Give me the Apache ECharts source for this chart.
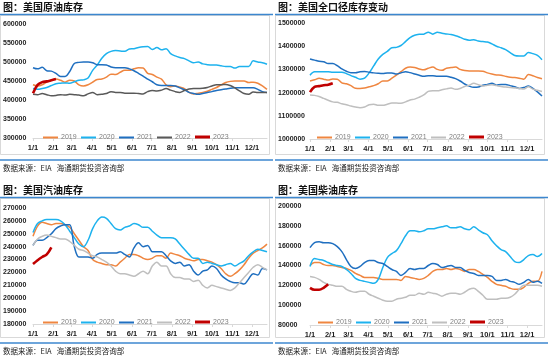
<!DOCTYPE html>
<html><head><meta charset="utf-8">
<script src="https://cdn.jsdelivr.net/npm/echarts@6/dist/echarts.min.js"></script>
<style>html,body{margin:0;padding:0;background:#fff}#c{width:550px;height:358px}</style>
</head><body><div id="c"></div>
<script>
// ---------- data (values in thousand barrels, weekly, week index 0..51) ----------
const years = ['2019', '2020', '2021', '2022', '2023'];
const monthLabels = ['1/1','2/1','3/1','4/1','5/1','6/1','7/1','8/1','9/1','10/1','11/1','12/1'];
const monthStartDays = [0,31,59,90,120,151,181,212,243,273,304,334];

const crude2019 = [440,437,440,447,452,455,452,447,452,450,440,437,440,447,454,455,460,468,467,473,478,478,482,485,484,470,467,460,455,440,435,437,434,430,420,416,418,420,423,428,433,440,446,449,450,450,450,446,447,444,437,428];
const crude2020 = [430,428,430,433,438,443,444,445,444,448,452,453,458,478,492,510,522,528,530,529,528,534,535,538,540,541,533,538,532,535,522,516,512,509,503,498,500,495,493,492,492,490,488,488,484,488,488,488,503,500,498,494];
const crude2021 = [485,482,486,477,476,470,462,462,475,496,499,500,500,498,493,493,492,487,485,485,485,482,477,470,463,455,448,440,438,438,438,437,432,427,420,417,415,417,420,422,425,427,429,431,432,432,432,432,432,428,422,420];
const crude2022 = [415,414,417,414,411,412,414,413,415,414,413,411,416,420,414,415,417,422,420,420,418,418,418,417,416,422,425,424,426,430,426,422,420,425,429,430,430,431,433,437,440,440,441,438,432,424,417,415,421,420,420,420];
const crude2023 = [418,440,447,449,452,455];

const total2019 = [1250,1255,1262,1258,1254,1259,1258,1242,1238,1230,1219,1218,1220,1225,1230,1238,1250,1250,1262,1275,1290,1305,1310,1308,1302,1298,1305,1310,1300,1296,1305,1308,1310,1300,1295,1293,1293,1293,1292,1285,1280,1276,1275,1270,1266,1265,1262,1258,1278,1273,1265,1260];
const total2020 = [1275,1290,1290,1290,1290,1288,1288,1288,1282,1273,1266,1258,1262,1285,1315,1345,1365,1378,1393,1395,1403,1420,1437,1447,1451,1452,1460,1452,1460,1456,1453,1450,1445,1438,1430,1426,1428,1422,1420,1418,1410,1400,1393,1385,1372,1360,1358,1358,1373,1368,1360,1342];
const total2021 = [1345,1340,1335,1333,1325,1325,1316,1302,1292,1286,1286,1290,1291,1288,1285,1283,1282,1285,1285,1280,1285,1290,1286,1280,1275,1270,1273,1273,1270,1270,1270,1266,1260,1250,1237,1228,1223,1224,1232,1235,1240,1232,1235,1235,1230,1225,1218,1222,1228,1218,1203,1185];
const total2022 = [1190,1188,1183,1175,1167,1160,1158,1152,1148,1142,1138,1135,1138,1148,1150,1145,1145,1150,1155,1155,1154,1160,1168,1172,1180,1190,1205,1208,1208,1212,1216,1220,1214,1218,1226,1232,1240,1234,1228,1232,1234,1230,1226,1224,1222,1220,1218,1215,1225,1215,1210,1205];
const total2023 = [1202,1225,1228,1232,1234,1240];

const gas2019 = [248,256,259,258,257,258,258,257,255,250,245,240,237,230,228,227,226,226,225,228,231,234,234,233,231,230,231,233,233,231,235,234,233,231,230,229,230,230,229,228,226,223,219,217,219,222,226,231,235,237,239,242];
const gas2020 = [251,258,260,261,261,261,260,257,252,247,242,240,245,254,260,263,262,258,254,253,255,256,258,257,255,255,252,249,247,247,247,246,242,238,234,231,231,227,228,227,226,225,226,227,225,227,229,233,236,238,237,236];
const gas2021 = [241,245,245,247,250,254,256,257,257,240,232,232,232,231,234,235,235,235,235,236,234,232,239,243,240,241,236,236,236,233,229,227,228,225,226,221,218,221,222,225,223,218,215,213,212,212,211,215,219,218,223,222];
const gas2022 = [241,246,248,249,248,247,246,246,244,241,238,237,235,233,232,230,228,225,221,219,219,218,217,219,221,219,225,228,225,225,219,216,216,215,215,213,214,210,208,210,209,208,207,206,208,212,216,220,224,226,224,222];
const gas2023 = [226.5,229.5,232,234,239.5];

const dsl2019 = [140,143,143,141,140,140,139,138,137,135,132,130,128,128,128,127,126,126,126,126,125,129,128,127,126,127,130,134,136,136,137,136,137,136,134,136,136,134,131,128,124,121,120,119,117,116,116,118,122,124,124,134];
const dsl2020 = [139,147,146,145,143,141,140,139,136,132,127,125,124,123,122,126,138,148,152,155,162,170,175,175,174,175,177,177,178,179,180,178,178,179,177,176,179,176,173,171,165,160,156,154,149,144,143,146,150,151,149,152];
const dsl2021 = [158,163,164,163,163,162,159,154,146,139,137,139,143,145,145,143,142,139,136,134,130,133,137,136,137,137,140,142,141,138,139,140,138,138,135,133,132,130,130,130,129,125,125,126,124,123,121,123,126,123,124,122];
const dsl2022 = [129,128,126,123,121,120,119,119,116,114,113,114,114,111,109,107,105,104,104,106,107,108,110,110,112,111,113,112,111,109,111,112,112,111,113,116,117,114,110,106,106,106,107,107,108,111,116,120,120,120,120,119];
const dsl2023 = [117.5,115.5,115.5,117.5,121];

const titles = ['图：美国原油库存', '图：美国全口径库存变动', '图：美国汽油库存', '图：美国柴油库存'];
const sourceText = '数据来源：EIA   海通期货投资咨询部';

// ---------- layout ----------
const colors = ['#EF8640', '#1DB2EE', '#1F6FC0', '#BFBFBF', '#C00000'];
const panels = [
  {ox: 0,   oy: 0,   title: titles[0], data: [crude2019, crude2020, crude2021, crude2022, crude2023], min: 300000, max: 600000, step: 50000, grid: {left: 33, top: 24, width: 234, height: 114}, gray: '#595959', legend: {left: 43, top: 131}},
  {ox: 275, oy: 0,   title: titles[1], data: [total2019, total2020, total2021, total2022, total2023], min: 1000000, max: 1500000, step: 100000, grid: {left: 310, top: 23, width: 232, height: 116}, gray: '#BFBFBF', legend: {left: 317, top: 131}},
  {ox: 0,   oy: 183, title: titles[2], data: [gas2019, gas2020, gas2021, gas2022, gas2023], min: 180000, max: 270000, step: 10000, grid: {left: 33, top: 208, width: 234, height: 116}, gray: '#BFBFBF', legend: {left: 43, top: 316}},
  {ox: 275, oy: 183, title: titles[3], data: [dsl2019, dsl2020, dsl2021, dsl2022, dsl2023], min: 80000, max: 200000, step: 20000, grid: {left: 310, top: 206, width: 232, height: 119}, gray: '#BFBFBF', legend: {left: 318, top: 316}}
];

const grid = [], xAxis = [], yAxis = [], series = [], legend = [], graphic = [];
const numFont = 'Liberation Sans';
const cjkFont = '"Noto Sans CJK SC"';
const itemStride = 38;

panels.forEach((p, k) => {
  grid.push(p.grid);
  xAxis.push({
    type: 'value', gridIndex: k, min: 0, max: 357,
    axisLine: {show: true, lineStyle: {color: '#D9D9D9', width: 1}},
    axisTick: {show: true, length: 3, customValues: monthStartDays, lineStyle: {color: '#D9D9D9'}},
    axisLabel: {
      customValues: monthStartDays, margin: 6, fontSize: 7.5, fontWeight: 'bold',
      fontFamily: numFont, color: '#222',
      formatter: v => monthLabels[monthStartDays.indexOf(v)]
    },
    splitLine: {show: false}
  });
  yAxis.push({
    type: 'value', gridIndex: k, min: p.min, max: p.max, interval: p.step,
    axisLine: {show: false}, axisTick: {show: false}, splitLine: {show: false},
    axisLabel: {align: 'left', margin: p.grid.left - p.ox - 3, fontSize: 7, fontWeight: 'bold',
      fontFamily: numFont, color: '#222', formatter: v => String(v)}
  });
  p.data.forEach((arr, j) => {
    series.push({
      name: years[j], type: 'line', xAxisIndex: k, yAxisIndex: k,
      symbol: 'none', smooth: 0.35,
      lineStyle: {width: j === 4 ? 2.6 : 1.5, color: j === 3 ? p.gray : colors[j]},
      itemStyle: {color: j === 3 ? p.gray : colors[j]},
      z: j === 4 ? 5 : 2,
      data: arr.map((v, i) => [i * 7, v * 1000])
    });
  });
  // one legend per item so each sample can have its own thickness
  years.forEach((y, j) => {
    const thick = j === 4 ? 3 : 2;
    legend.push({
      show: true, left: p.legend.left + j * itemStride, top: p.legend.top + (j === 4 ? 2.5 : 3),
      orient: 'horizontal', icon: 'rect',
      itemWidth: 15, itemHeight: thick, itemGap: 0, padding: 0,
      textStyle: {fontSize: 7, color: '#7F7F7F', fontFamily: numFont, padding: [0, 0, 0, -2]},
      data: [{name: y, itemStyle: {color: j === 3 ? p.gray : colors[j]}}]
    });
  });
  // frame
  graphic.push({type: 'rect', z: 0, silent: true,
    shape: {x: p.ox + 0.5, y: p.oy + 15.5, width: 269, height: 139},
    style: {fill: 'none', stroke: '#D9D9D9', lineWidth: 1}});
  // blue rules
  graphic.push({type: 'line', z: 1, silent: true,
    shape: {x1: p.ox, y1: p.oy + 14.5, x2: p.ox + 273, y2: p.oy + 14.5},
    style: {stroke: '#3C87CF', lineWidth: 1.5}});
  graphic.push({type: 'line', z: 1, silent: true,
    shape: {x1: p.ox, y1: p.oy + 160, x2: p.ox + 273, y2: p.oy + 160},
    style: {stroke: '#3C87CF', lineWidth: 1.5}});
  // title
  graphic.push({type: 'text', x: p.ox + 3, y: p.oy + 7, silent: true,
    style: {text: p.title, fontSize: 10, fontWeight: 'bold', fontFamily: cjkFont, fill: '#111', verticalAlign: 'middle'}});
  // source
  graphic.push({type: 'text', x: p.ox + 3, y: p.oy + 168, silent: true,
    style: {text: sourceText, fontSize: 7.5, fontFamily: cjkFont, fill: '#222', verticalAlign: 'middle'}});
});

const chart = echarts.init(document.getElementById('c'), null, {renderer: 'canvas'});
chart.setOption({
  animation: false,
  backgroundColor: '#fff',
  grid, xAxis, yAxis, series, legend, graphic
});
</script>
</body></html>
